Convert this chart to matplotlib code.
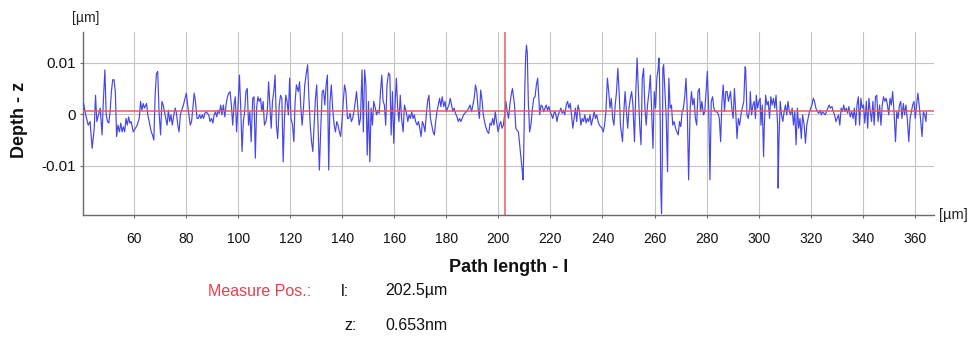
import matplotlib
matplotlib.use("Agg")
import matplotlib.pyplot as plt
import numpy as np

plt.rcParams['font.family'] = ['Liberation Sans', 'DejaVu Sans']

# Profile readings: path length [µm] and depth [10^-3 µm], read segment by segment
seg1_x = [40.6, 41.4, 42.4, 43.1, 43.9, 44.7, 45.2, 45.7, 46.5, 47.0, 47.7, 48.2, 48.8, 49.3, 49.8, 50.3,
          50.8, 51.3, 51.8, 52.3, 52.8, 53.3, 53.8, 54.4, 54.9, 55.4, 55.9, 56.4, 56.9, 57.4, 57.9, 58.4,
          58.9, 59.7, 60.5, 61.2, 62.0, 62.5, 63.0, 63.5, 64.0, 64.8, 65.3, 66.1, 66.6, 67.1, 67.6, 68.1,
          68.6, 69.1, 69.6, 70.2, 70.7, 71.2, 71.7, 72.2, 72.7, 73.2, 73.7, 74.2, 74.7, 75.3, 75.8, 76.3,
          76.8, 77.3, 77.8, 78.3, 78.8, 79.3, 80.1, 80.6]
seg1_z = [2.1, -0.1, -2.1, -1.4, -6.6, -2.7, 3.7, -1.4, 0.2, 1.2, -4.0, 2.5, 8.6, -0.1, -1.4, -1.7,
          0.5, 4.4, 6.7, 6.7, 4.4, -4.3, -2.1, -3.4, -1.7, -3.4, -2.4, -3.4, -0.8, -2.1, -0.5, -1.7,
          -1.4, -3.4, -2.7, -2.1, -0.8, 2.5, 0.8, 2.1, 1.2, 2.1, -0.1, -2.1, -3.4, -4.0, -5.0, 3.7,
          7.9, 8.3, 0.5, -4.0, 2.5, 1.8, 0.5, -0.8, -2.1, 0.8, -1.4, -0.1, -2.1, -0.1, 1.2, 0.2,
          -2.1, -3.4, -0.1, 0.8, 1.5, 2.5, 4.1, 1.8]

seg2_x = [81.6, 82.1, 82.6, 83.1, 83.6, 84.2, 84.7, 85.2, 85.7, 86.2, 86.7, 87.2, 87.7, 88.2, 88.7, 89.2,
          89.8, 90.3, 90.8, 91.3, 91.8, 92.3, 92.8, 93.3, 93.8, 94.3, 94.9, 95.4, 95.9, 96.4, 96.9, 97.4,
          97.9, 98.4, 98.9, 99.4, 99.9, 100.5, 101.0, 101.5, 102.0, 102.5, 103.0, 103.5, 104.0, 104.5,
          105.0, 105.6, 106.1, 106.6, 107.1, 107.6, 108.1, 108.6, 109.1, 109.6, 110.1, 110.7, 111.2,
          111.7, 112.2, 112.7, 113.2, 113.7, 114.2, 114.7, 115.2, 115.8, 116.3, 116.8, 117.3, 117.8,
          118.3, 118.8, 119.3, 119.8, 120.3, 120.9, 121.4, 121.9, 122.4]
seg2_z = [-2.1, -1.4, 1.2, 4.1, 2.5, -0.8, -0.8, -0.1, -0.8, -0.1, -0.8, 0.2, 0.5, 0.2, -0.1, -1.4,
          -0.8, -1.7, -0.1, 0.5, -0.5, 0.8, 0.2, 1.8, -0.1, 1.8, -0.5, 2.1, 3.4, 4.1, 4.4, 1.8,
          -2.1, 1.8, 3.4, -3.4, 1.2, 7.6, 1.2, -7.2, -1.4, 0.5, 4.4, 5.0, -2.1, 0.5,
          -5.3, 3.1, 3.4, -8.5, 1.2, 3.4, 2.5, 3.1, 0.5, 2.5, -2.1, -1.4, 0.5,
          6.3, 1.8, -2.7, 2.5, 4.4, 7.6, -2.1, -4.7, 1.8, 3.7, 3.1, -9.2, -0.8,
          3.7, 2.5, -0.1, 7.0, -0.8, -2.1, -5.3, 2.5, 5.7]

seg3_x = [123.1, 123.6, 124.1, 124.6, 125.1, 125.6, 126.1, 126.7, 127.2, 127.7, 128.2, 128.7, 129.2,
          129.7, 130.2, 130.7, 131.2, 131.8, 132.3, 132.8, 133.3, 133.8, 134.3, 134.8, 135.3, 135.8,
          136.3, 136.9, 137.4, 137.9, 138.4, 138.9, 139.4, 139.9, 140.4, 140.9, 141.4, 142.0, 142.5,
          143.0, 143.5, 144.0, 144.5, 145.0, 145.5, 146.0, 146.5, 147.0, 147.6, 148.1, 148.6, 149.1,
          149.6, 150.1, 150.6, 151.1, 151.6, 152.1, 152.7, 153.2, 153.7, 154.2, 154.7, 155.2, 155.7,
          156.2, 156.7, 157.2, 157.8, 158.3, 158.8, 159.3, 159.8, 160.3, 160.8, 161.3, 161.8, 162.3,
          162.8, 163.4, 163.9]
seg3_z = [4.4, 6.3, 1.2, -2.1, 1.2, 5.7, 7.6, 9.6, 3.1, -2.1, -5.3, -7.2, -2.1,
          3.1, 5.7, -2.1, -10.8, -2.1, 4.4, 4.7, 1.8, 5.7, 7.6, -10.8, 2.5, 5.7,
          1.2, -2.1, -3.4, -1.4, -2.1, -3.4, -4.3, -1.4, 2.5, 5.7, 4.4, -0.8, -0.8,
          0.2, -1.4, -0.8, 0.5, 2.5, 4.4, 1.2, -2.1, -0.8, 8.6, -3.4, 8.6, 5.7,
          -7.9, 2.5, -9.2, 1.2, -2.1, 2.5, 1.2, -0.1, 0.8, 0.2, 4.4, 7.6, 2.5,
          1.8, -2.1, 5.7, 8.0, 7.6, -4.0, 4.4, -5.6, 1.8, 7.0, 1.2, -1.4, 3.7,
          -0.8, -3.4, 1.8]

seg4_x = [164.7, 165.2, 165.7, 166.2, 166.7, 167.2, 167.7, 168.2, 168.8, 169.3, 169.8, 170.3, 170.8,
          171.3, 171.8, 172.3, 172.8, 173.3, 173.9, 174.4, 174.9, 175.4, 175.9, 176.4, 176.9, 177.4,
          177.9, 178.4, 179.0, 179.5, 180.0, 180.5, 181.0, 181.5, 182.0, 182.5, 183.0, 183.5, 184.1,
          184.6, 185.1, 185.6, 186.1, 186.6, 187.1, 187.6, 188.1, 188.6, 189.1, 189.7, 190.2, 190.7,
          191.2, 191.7, 192.2, 192.7, 193.2, 193.7, 194.2, 194.8, 195.3, 195.8, 196.3, 196.8, 197.3,
          197.8, 198.3, 198.8, 199.3, 199.9, 200.4, 200.9, 201.4, 201.9, 202.4, 202.9, 203.4, 203.9,
          204.4, 204.9, 205.4]
seg4_z = [0.2, -1.4, -0.1, -0.8, 0.5, -0.8, -0.1, -1.4, -2.1, -1.4, -2.7, -4.3, -1.4,
          -2.1, -3.4, -0.1, 2.5, 3.7, -0.8, -2.1, -3.4, -4.0, -1.4, 0.5, 1.8, 3.1,
          1.5, 3.4, 1.5, 2.5, 0.5, 1.2, 1.8, 3.1, 1.8, 0.5, 1.2, 0.2, -0.5,
          -1.4, -0.8, -1.4, -0.8, -0.1, 0.2, 0.5, 0.8, 1.2, 1.8, 0.5, 1.8, 3.1,
          5.7, 4.4, 1.2, -0.8, 4.7, 2.8, -0.1, -1.7, -2.7, -3.4, -3.7, -1.7, -2.1,
          -0.8, -2.1, 0.5, -1.4, -3.4, -2.1, -1.4, -2.7, -2.1, -0.1, 2.5, 0.5, -0.8,
          1.8, 3.7, 5.0]

seg5_x = [206.2, 206.7, 207.2, 207.7, 208.2, 208.7, 209.2, 209.5, 209.7, 210.1, 210.5, 210.8, 211.1,
          211.5, 212.0, 212.5, 213.1, 213.6, 214.1, 214.6, 215.1, 215.6, 215.9, 216.4, 216.9, 217.4,
          217.9, 218.4, 218.9, 219.4, 219.9, 220.4, 220.9, 221.5, 222.0, 222.5, 223.0, 223.5, 224.0,
          224.5, 225.0, 225.5, 226.1, 226.6, 227.1, 227.6, 228.1, 228.6, 229.1, 229.6, 230.1, 230.6,
          231.2, 231.7, 232.2, 232.7, 233.2, 233.7, 234.2, 234.7, 235.2, 235.7, 236.3, 236.8, 237.3,
          237.8, 238.3, 238.8, 239.3, 239.8, 240.3, 240.8, 241.3, 241.9, 242.4, 242.9, 243.4, 243.9,
          244.4, 244.9, 245.4, 245.9, 246.4, 246.9]
seg5_z = [1.8, -2.7, -3.1, -3.4, -5.9, -8.5, -11.1, -12.7, -8.5, 4.0, 11.5, 13.4, 12.0,
          2.5, -3.4, -2.1, 1.2, 3.1, 3.4, 5.7, 7.0, 2.5, -0.1, 1.8, 1.5, 0.5,
          1.2, 1.8, 0.8, 1.5, 0.5, -0.1, -0.8, 0.5, 0.2, -1.4, -0.1, 0.5, 1.2,
          0.2, 0.8, -0.1, 1.8, 2.5, 1.2, 2.1, -0.1, -2.7, -0.8, 1.2, -1.4, 1.8,
          0.5, -2.1, -0.8, -1.4, -0.1, -1.7, -0.8, -1.4, -0.1, -2.1, -0.8, 0.5, -0.8,
          -0.1, -1.4, -2.1, -2.4, -2.7, -3.4, -2.1, 0.5, 7.0, 4.4, 1.2, 3.1, -0.8,
          -2.1, 1.8, 4.4, 8.9, 4.4, -2.1]

seg6_x = [247.7, 248.2, 248.7, 249.2, 249.7, 250.2, 250.7, 251.2, 251.7, 252.3, 252.8, 253.3, 253.8,
          254.3, 254.8, 255.3, 255.8, 256.3, 256.8, 257.3, 257.9, 258.4, 258.9, 259.4, 259.9, 260.4,
          260.9, 261.4, 261.7, 261.9, 262.2, 262.4, 262.7, 263.0, 263.2, 263.5, 264.0, 264.5, 265.0,
          265.2, 265.5, 266.0, 266.5, 267.0, 267.5, 268.1, 268.6, 269.1, 269.6, 270.1, 270.6, 271.1,
          271.6, 272.1, 272.6, 273.1, 273.7, 274.2, 274.7, 275.2, 275.7, 276.2, 276.7, 277.2, 277.7,
          278.2, 278.8, 279.3, 279.8, 280.3, 280.8, 281.3, 281.8, 282.3, 282.8, 283.3, 283.8, 284.4,
          284.9, 285.4, 285.9, 286.4, 286.9, 287.4, 287.9, 288.4]
seg6_z = [-5.3, 0.5, 4.4, 0.5, -2.7, 1.2, 3.1, 4.4, 1.8, -5.3, 4.4, 10.9, 4.4,
          -2.1, -5.9, 7.0, 8.9, 1.2, -2.1, 1.8, 4.4, 7.6, 0.5, -6.6, 4.4, 1.2,
          7.0, 8.9, 10.9, 7.6, -2.1, -14.3, -19.2, -8.5, 8.9, 9.6, 4.4, -0.8, -11.1,
          -2.1, 7.0, 1.2, 1.8, -2.1, -1.4, -2.7, -3.4, -4.0, -1.4, -2.4, 0.5, 1.2,
          3.4, 7.0, 0.5, -12.7, 1.2, 4.4, 1.8, 3.1, -0.8, -2.1, 4.4, 5.0, 0.5,
          2.5, -0.1, 0.5, 4.4, 8.3, 1.2, -12.7, 2.5, 3.4, 1.2, 0.5, 0.5, 0.2,
          -0.8, -5.3, 2.5, 5.7, 0.5, 4.4, 4.4, 2.5]

seg7_x = [289.2, 289.7, 290.2, 290.7, 291.2, 291.7, 292.2, 292.7, 293.2, 293.7, 294.3, 294.8, 295.0,
          295.3, 295.5, 296.0, 296.6, 296.8, 297.3, 297.8, 298.3, 298.8, 299.1, 299.6, 300.1, 300.6,
          300.9, 301.4, 301.9, 302.2, 302.7, 303.2, 303.7, 304.2, 304.7, 305.2, 305.7, 306.2, 306.7,
          307.3, 307.5, 307.8, 308.3, 308.8, 309.3, 309.8, 310.3, 310.8, 311.3, 311.8, 312.3, 312.9,
          313.4, 313.9, 314.4, 314.9, 315.4, 315.9, 316.4, 316.9, 317.5, 318.0, 318.5, 319.0, 319.5,
          320.0, 320.5, 321.0, 321.5, 322.0, 322.6, 323.1, 323.6, 324.1, 324.6, 325.1, 325.6, 326.1,
          326.6, 327.1, 327.6, 328.2, 328.7, 329.2, 329.7]
seg7_z = [4.4, 1.2, -0.8, 5.0, 0.5, -4.7, -0.8, -2.1, -0.1, 1.2, 2.5, 9.2, 8.9,
          4.4, -0.1, -0.8, 1.2, 4.4, -0.1, 1.8, 2.5, -0.8, 3.7, 1.2, 2.5, 3.1,
          -2.1, 1.8, -8.2, -2.1, 3.7, 1.8, 2.5, -0.8, 3.4, 1.8, 3.1, 1.2, 3.7,
          -2.1, -14.3, -5.3, 2.5, -0.1, -1.4, 0.5, 1.8, -0.1, 2.5, 0.5, -0.1, 1.2,
          -2.1, 0.5, -5.9, 1.2, -2.7, -0.8, -4.7, -0.1, -2.1, -5.6, -2.1, -0.8, 0.5,
          1.2, 1.8, 3.1, 2.5, 1.2, 0.5, 0.2, 0.8, -0.1, 0.5, 0.2, -0.1, 0.5,
          1.2, 1.8, 1.2, 1.5, 0.5, -0.1, -1.4]

seg8_x = [330.7, 331.2, 331.7, 332.2, 332.7, 333.2, 333.7, 334.2, 334.7, 335.2, 335.8, 336.3, 336.8,
          337.3, 337.8, 338.3, 338.8, 339.3, 339.8, 340.3, 340.8, 341.4, 341.9, 342.4, 342.9, 343.4,
          343.9, 344.4, 344.9, 345.4, 345.9, 346.5, 347.0, 347.5, 348.0, 348.5, 349.0, 349.5, 350.0,
          350.5, 351.0, 351.5, 352.1, 352.6, 353.1, 353.6, 354.1, 354.6, 355.1, 355.6, 356.1, 356.6,
          357.2, 357.7, 358.2, 358.7, 359.2, 359.7, 360.2, 360.7, 361.2, 361.7, 362.3, 362.8, 363.3,
          363.8, 364.3, 364.5]
seg8_z = [-0.1, -2.1, 1.2, 0.5, 1.8, 0.5, 1.2, 0.2, 1.5, -0.5, 0.5, -0.8, 1.2,
          -2.1, 1.8, 3.4, -2.1, 3.1, 1.2, 1.8, -1.7, 2.5, -2.7, 3.1, 0.5, -1.4,
          2.5, -2.1, 3.4, 3.7, -1.4, 1.8, -2.1, 1.8, 3.4, 2.5, 3.1, 1.8, -0.1,
          3.1, 1.8, 4.4, -0.1, -5.3, 0.5, -0.8, 1.8, 2.5, -0.8, 2.1, -0.1, 1.8,
          -1.4, -5.3, -0.8, 0.5, 1.8, 2.5, -0.8, 1.8, 4.1, 1.8, -1.4, -4.3, 0.5,
          -0.1, -1.4, 0.5]

x_ticks = [60, 80, 100, 120, 140, 160, 180, 200, 220, 240, 260, 280, 300, 320, 340, 360]
y_ticks = [0.01, 0.0, -0.01]
y_tick_labels = ["0.01", "0", "-0.01"]
measure_l = 202.5      # µm
measure_z = 0.653e-3   # µm (0.653 nm)

xs = np.array(seg1_x + seg2_x + seg3_x + seg4_x + seg5_x + seg6_x + seg7_x + seg8_x)
zs = np.array(seg1_z + seg2_z + seg3_z + seg4_z + seg5_z + seg6_z + seg7_z + seg8_z) * 1e-3

fig = plt.figure(figsize=(9.72, 3.39), dpi=100)
ax = fig.add_axes([83.3/972, 1-215/339, (933.5-83.3)/972, (215-31.7)/339])

ax.plot(xs, zs, color='#4646e6', lw=0.85, zorder=3)
ax.axhline(measure_z, color='#e85a5a', lw=1.1, zorder=4)
ax.axvline(measure_l, color='#e85a5a', lw=1.1, zorder=4)

ax.set_xlim(40.5, 367.2)
ax.set_ylim(-0.0195, 0.0160)
ax.set_xticks(x_ticks)
ax.set_xticklabels([str(t) for t in x_ticks])
ax.set_yticks(y_ticks)
ax.set_yticklabels(y_tick_labels)
ax.grid(True, color='#c4c4c4', lw=0.8, zorder=0)
for s in ['top', 'right']:
    ax.spines[s].set_visible(False)
for s in ['left', 'bottom']:
    ax.spines[s].set_color('#6a6a6a')
    ax.spines[s].set_linewidth(1.0)
ax.tick_params(axis='x', length=2.5, pad=10, color='#6a6a6a', labelsize=10, labelcolor='#111111')
ax.tick_params(axis='y', length=2.5, pad=2.5, color='#6a6a6a', labelsize=11, labelcolor='#111111')

fig.text(86/972, 1-18/339, "[µm]", ha='center', va='center', fontsize=10, color='#222222')
fig.text(953/972, 1-215/339, "[µm]", ha='center', va='center', fontsize=10.5, color='#222222')
fig.text(19/972, 1-120/339, "Depth - z", rotation=90, ha='center', va='center',
         fontsize=13, fontweight='bold', color='#111111')
fig.text(509/972, 1-268/339, "Path length - l", ha='center', va='center',
         fontsize=13, fontweight='bold', color='#111111')
fig.text(208/972, 1-291/339, "Measure Pos.:", ha='left', va='center', fontsize=11.5, color='#e8404e')
fig.text(341/972, 1-291/339, "l:", ha='left', va='center', fontsize=11.5, color='#111111')
fig.text(385/972, 1-291/339, "202.5µm", ha='left', va='center', fontsize=11.5, color='#111111')
fig.text(344/972, 1-325/339, "z:", ha='left', va='center', fontsize=11.5, color='#111111')
fig.text(385/972, 1-325/339, "0.653nm", ha='left', va='center', fontsize=11.5, color='#111111')

fig.savefig("out.png", dpi=100, facecolor='white')
